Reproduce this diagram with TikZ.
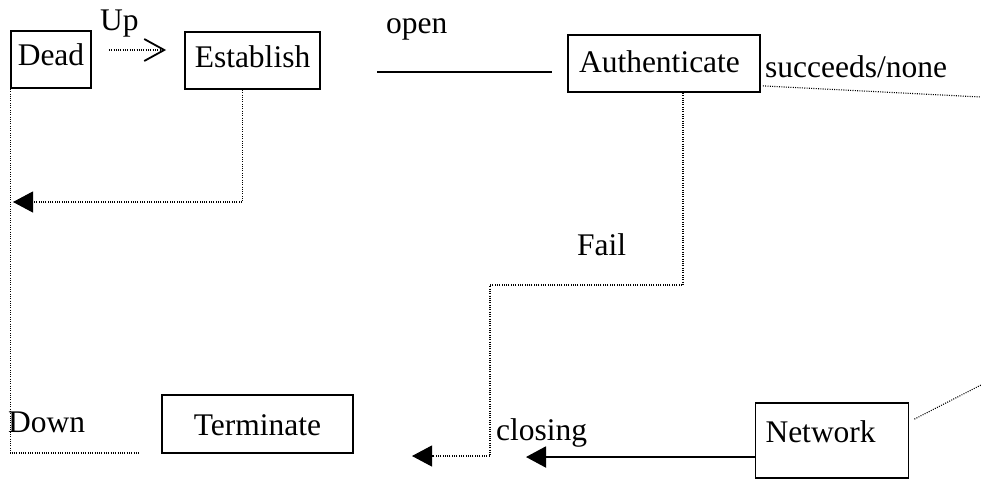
\documentclass[tikz,border=0pt]{standalone}
\usepackage{fontspec}
\setmainfont{Liberation Serif}
\usetikzlibrary{arrows.meta,calc}
\begin{document}
\begin{tikzpicture}[x=1pt,y=1pt,
  every node/.style={font=\fontsize{31.5}{37}\selectfont},
  box/.style={draw, line width=1.8pt, inner sep=0pt, text height=21pt, text depth=7pt},
  lbl/.style={anchor=base west, inner sep=0pt},
  dotline/.style={line width=1.1pt, dash pattern=on 1pt off 1.3pt, black},
  solidline/.style={line width=2pt},
  filltip/.style={-{Triangle[length=20pt,width=21pt]}},
  bartip/.style={-{Straight Barb[length=20pt,width=22pt,line width=1.8pt]}},
]
\useasboundingbox (0,0) rectangle (981,-480);

% state boxes
\node[box, minimum width=80, minimum height=57, text depth=10pt] (Dead) at (51,-59.5) {Dead};
\node[box, minimum width=135, minimum height=57, text depth=8pt] (Establish) at (252.5,-60.5) {Establish};
\node[box, minimum width=192, minimum height=57, text depth=4pt, text width=170pt, align=left, inner xsep=11pt] (Authenticate) at (664,-63.5) {Authenticate};
\node[box, minimum width=191, minimum height=58, text height=22pt, text depth=0pt] (Terminate) at (257.5,-424) {Terminate};
\node[box, minimum width=153, minimum height=75, text depth=18pt, text width=133pt, align=left, inner xsep=10pt] (Network) at (832,-440.5) {Network};

% transition labels
\node[lbl] (up) at (100,-30) {Up};
\node[lbl] (open) at (386,-33) {open};
\node[lbl] (succ) at (765,-77) {succeeds/none};
\node[lbl] (fail) at (577,-255) {Fail};
\node[lbl] (down) at (8,-432) {Down};
\node[lbl] (closing) at (496,-440) {closing};

% free ends of connectors
\coordinate (downEnd) at (140,-453);
\coordinate (loopTip) at (13,-202);
\coordinate (openL) at (377,-72);
\coordinate (openR) at (552,-72);
\coordinate (succEnd) at (981,-97);
\coordinate (failTurn) at (490,-285);
\coordinate (failTip) at (412,-456);
\coordinate (closeTip) at (526,-457);
\coordinate (netEnd) at (981,-385);

% connectors
\draw[dotline, bartip] ($(Dead.east)+(17,9.5)$) -- ($(Establish.west)+(-18,10.5)$);
\draw[dotline] (Dead.south west) |- (downEnd);
\draw[dotline, filltip] ($(Establish.south)+(-10,0)$) |- (loopTip);
\draw[solidline] (openL) -- (openR);
\draw[dotline] ($(Authenticate.south east)+(2,7)$) -- (succEnd);
\draw[dotline, filltip] ($(Authenticate.south)+(19,0)$) |- (failTurn) |- (failTip);
\draw[solidline, filltip] ($(Network.west)+(0,-16.5)$) -- (closeTip);
\draw[dotline] ($(Network.north east)+(5,-17)$) -- (netEnd);
\end{tikzpicture}
\end{document}
